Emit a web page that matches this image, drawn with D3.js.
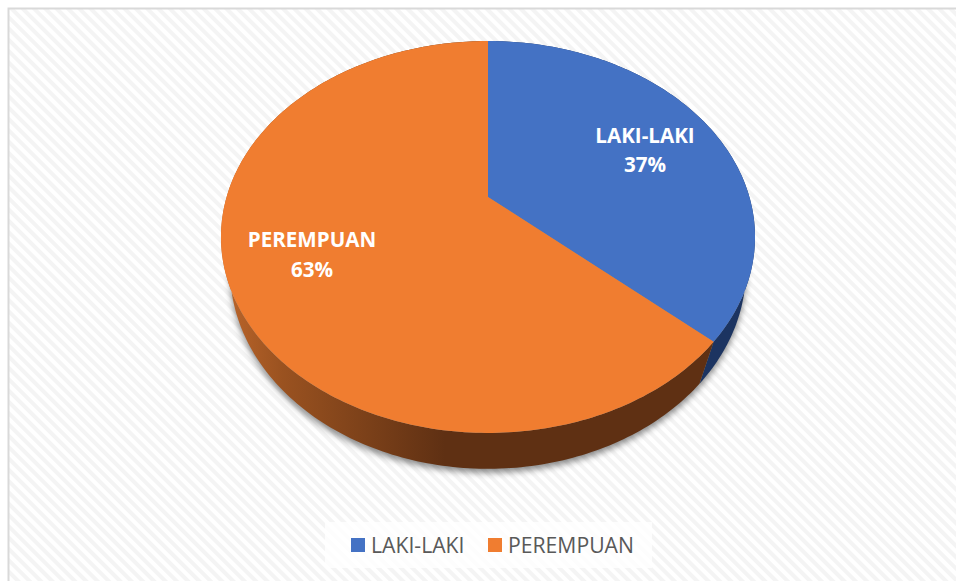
<!DOCTYPE html>
<html lang="en">
<head>
<meta charset="UTF-8">
<title>Laki-laki dan Perempuan</title>
<script src="https://d3js.org/d3.v7.min.js"></script>
<style>
    html, body { margin: 0; padding: 0; background: #fff; }
    svg { display: block; }
    .label { font-family: "Open Sans", sans-serif; font-weight: 700; font-size: 20.6px; fill: #fff; text-anchor: middle; }
    .legend { font-family: "Open Sans", sans-serif; font-size: 21.2px; fill: #595959; }
</style>
</head>
<body>
<svg id="chart" width="956" height="581"></svg>
<script>
    const categories = ['LAKI-LAKI', 'PEREMPUAN'];
    const values = [36.6, 63.4];
    const colors = ['#4472c4', '#f07d30'];
    const wallColors = ['#1c3461', null];

    const width = 956, height = 581;
    const svg = d3.select('#chart');
    const defs = svg.append('defs');

    // stripes behind the chart
    const stripes = defs.append('pattern')
        .attr('id', 'stripes')
        .attr('patternUnits', 'userSpaceOnUse')
        .attr('width', 8).attr('height', 8)
        .attr('patternTransform', 'rotate(-45)');
    stripes.append('rect').attr('width', 8).attr('height', 8).attr('fill', '#fff');
    stripes.append('rect').attr('width', 4).attr('height', 8).attr('fill', '#f4f4f4');

    const wallGrad = defs.append('linearGradient')
        .attr('id', 'wallOrange')
        .attr('gradientUnits', 'userSpaceOnUse')
        .attr('x1', 228).attr('x2', 445).attr('y1', 0).attr('y2', 0);
    wallGrad.append('stop').attr('offset', 0).attr('stop-color', '#b9642a');
    wallGrad.append('stop').attr('offset', 0.25).attr('stop-color', '#9a5220');
    wallGrad.append('stop').attr('offset', 1).attr('stop-color', '#5f3013');

    const blur = defs.append('filter')
        .attr('id', 'blur')
        .attr('x', '-10%').attr('y', '-10%').attr('width', '120%').attr('height', '120%');
    blur.append('feGaussianBlur').attr('stdDeviation', 3);

    svg.append('rect').attr('width', width).attr('height', height).attr('fill', '#fff');
    svg.append('rect')
        .attr('x', 8.5).attr('y', 8.5)
        .attr('width', width + 10).attr('height', height + 10)
        .attr('fill', 'url(#stripes)')
        .attr('stroke', '#d9d9d9').attr('stroke-width', 2);

    // the pie is drawn in perspective, apex sits above the middle of the ellipse
    const cx = 488, persp = -0.204, wallSkew = 0.04;

    function project(theta, wall) {
        const X = Math.sin(theta), Y = -Math.cos(theta);
        const den = 1 + persp * Y;
        const x = 261.4 * X / den;
        const y = (147.6 * Y + 197) / den;
        if (wall) return [cx + x * 0.966, y * 1.015 + 29.4];
        return [cx + x, y];
    }

    function arcPoints(a0, a1, wall) {
        const n = Math.ceil(Math.abs(a1 - a0) * 60);
        return d3.range(n + 1).map(i => project(a0 + (a1 - a0) * i / n, wall));
    }

    const pie = d3.pie().sort(null);
    const slices = pie(values);
    const line = d3.line().curve(d3.curveLinear);

    // soft shadow comes from the lower rim only
    svg.append('path')
        .attr('d', line(arcPoints(0, 2 * Math.PI, true)) + 'Z')
        .attr('transform', 'translate(0,4)')
        .attr('fill', '#000').attr('fill-opacity', 0.45)
        .attr('filter', 'url(#blur)');

    svg.append('g').selectAll('path')
        .data(slices)
        .join('path')
        .attr('d', d => line(arcPoints(d.startAngle, d.endAngle, false)
            .concat(arcPoints(d.endAngle + wallSkew, d.startAngle + wallSkew, true))) + 'Z')
        .attr('fill', (d, i) => wallColors[i] || 'url(#wallOrange)');

    svg.append('g').selectAll('path')
        .data(slices)
        .join('path')
        .attr('d', d => line([[cx, 197]].concat(arcPoints(d.startAngle, d.endAngle, false))) + 'Z')
        .attr('fill', (d, i) => colors[i]);

    // data labels
    const labelPos = [[645, 143, 172], [312, 247, 277]];
    const pct = d3.format('.0%');
    const total = d3.sum(values);
    categories.forEach((c, i) => {
        svg.append('text').attr('class', 'label').attr('x', labelPos[i][0]).attr('y', labelPos[i][1]).text(c);
        svg.append('text').attr('class', 'label').attr('x', labelPos[i][0]).attr('y', labelPos[i][2]).text(pct(values[i] / total));
    });

    // legend
    svg.append('rect')
        .attr('x', 325).attr('y', 522).attr('width', 327).attr('height', 46)
        .attr('fill', '#fff').attr('fill-opacity', 0.8);
    const legendX = [351, 488];
    categories.forEach((c, i) => {
        svg.append('rect')
            .attr('x', legendX[i]).attr('y', 538)
            .attr('width', 14).attr('height', 14)
            .attr('fill', colors[i]);
        svg.append('text').attr('class', 'legend')
            .attr('x', legendX[i] + 20).attr('y', 553)
            .text(c);
    });
</script>
</body>
</html>
